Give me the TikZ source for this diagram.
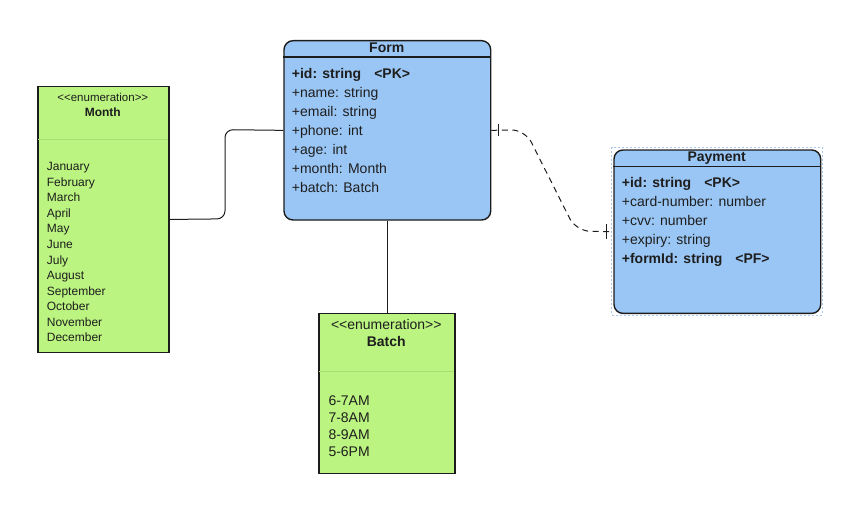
\documentclass[tikz,border=0pt]{standalone}
\usepackage{fontspec}
\setmainfont{Liberation Sans}
\definecolor{clsblue}{HTML}{9AC6F5}
\definecolor{enumgreen}{HTML}{BBF480}
\definecolor{sepgreen}{HTML}{A8DE72}
\definecolor{linec}{HTML}{1C1C1C}
\definecolor{txtc}{HTML}{1E1E1E}
\definecolor{selc}{HTML}{A8C8F0}
\begin{document}
\begin{tikzpicture}[x=1pt,y=-1pt,
  box/.style={draw=linec, line width=1.4pt, inner sep=0pt, anchor=north west},
  cls/.style={box, fill=clsblue, rounded corners=9pt},
  enum/.style={box, fill=enumgreen, line width=1.2pt},
  txt/.style={inner sep=0pt, anchor=base west, text=txtc, font=\fontsize{14}{16}\selectfont},
  smalltxt/.style={txt, font=\fontsize{12}{14}\selectfont},
  ttl/.style={inner sep=0pt, anchor=base, text=txtc, font=\fontsize{14}{16}\selectfont\bfseries},
  smallttl/.style={ttl, font=\fontsize{12}{14}\selectfont\bfseries},
  stereo/.style={inner sep=0pt, anchor=base, text=txtc, font=\fontsize{14}{16}\selectfont},
  smallstereo/.style={stereo, font=\fontsize{11.5}{14}\selectfont},
  hdr/.style={draw=linec, line width=1.2pt},
  sepline/.style={draw=sepgreen, line width=1.2pt},
  conn/.style={draw=linec, line width=1pt},
]
\useasboundingbox (0,0) rectangle (849,511);

% ---------- Form ----------
\node[cls, minimum width=206.7pt, minimum height=179.3pt] (form) at (283.3,40) {};
\draw[hdr] (283.3,57) -- (490,57);
\node[ttl] (formT) at (386.7,53) {Form};
\foreach \t [count=\i from 0] in {{\textbf{+id: string\hspace{13pt}<PK>}},+name: string,+email: string,+phone: int,+age: int,+month: Month,+batch: Batch}
  \node[txt] (fr\i) at (291.7,78+19.15*\i) {\t};

% ---------- Payment ----------
\draw[selc, line width=0.8pt, dash pattern=on 2pt off 2pt] (611.7,147.3) rectangle (822.3,315);
\node[cls, minimum width=206.7pt, minimum height=163.4pt] (payment) at (613.3,149.3) {};
\draw[hdr] (613.3,166.7) -- (820,166.7);
\node[ttl] (payT) at (716.7,161.7) {Payment};
\foreach \t [count=\i from 0] in {{\textbf{+id: string\hspace{13pt}<PK>}},+card-number: number,+cvv: number,+expiry: string,{\textbf{+formId: string\hspace{13pt}<PF>}}}
  \node[txt] (pr\i) at (621.7,187.3+19*\i) {\t};

% ---------- Month ----------
\node[enum, minimum width=131pt, minimum height=265.7pt] (month) at (37.3,86) {};
\node[smallstereo] (monthS) at (102.8,101.7) {<{}<{}enumeration>{}>};
\node[smallttl] (monthT) at (102.8,116.7) {Month};
\draw[sepline] (38,139.3) -- (167.6,139.3);
\foreach \t [count=\i from 0] in {January,February,March,April,May,June,July,August,September,October,November,December}
  \node[smalltxt] (m\i) at (46.7,170.7+15.55*\i) {\t};

% ---------- Batch ----------
\node[enum, minimum width=136pt, minimum height=160pt] (batch) at (318.3,312.7) {};
\node[stereo] (batchS) at (386.3,329.3) {<{}<{}enumeration>{}>};
\node[ttl] (batchT) at (386.3,346.7) {Batch};
\draw[sepline] (319,371.7) -- (453.6,371.7);
\foreach \t [count=\i from 0] in {6-7AM,7-8AM,8-9AM,5-6PM}
  \node[txt] (b\i) at (328.3,405+17.1*\i) {\t};

% ---------- Connectors ----------
\draw[conn, rounded corners=8pt] (month.east) -- (225,218.85) -- (225,129.65) -- (form.west);
\draw[conn] (form.south) -- (form.south |- batch.north);
\draw[conn, dash pattern=on 6pt off 4.5pt, rounded corners=14pt]
  (form.east) -- (525,129.65) -- (576,231) -- (payment.west);
\draw[conn] ([xshift=7.3pt]form.east) ++(0,-6) -- ++(0,12);
\draw[conn] ([xshift=-7.3pt]payment.west) ++(0,-7.5) -- ++(0,15);
\end{tikzpicture}
\end{document}
